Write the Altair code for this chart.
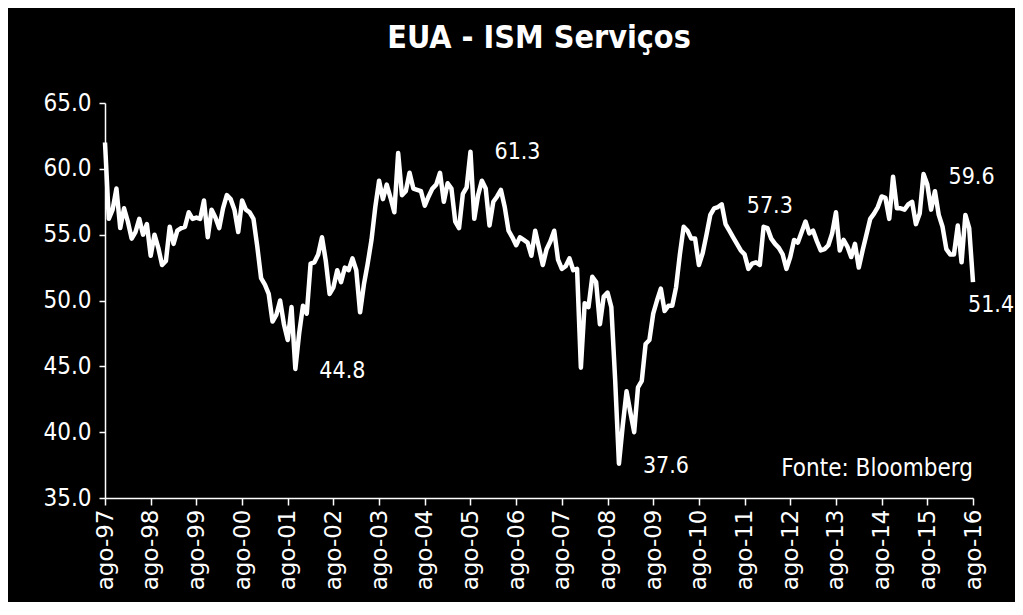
import altair as alt
import pandas as pd

# Monthly ISM Services index, ago-97 .. ago-16
values = [
    62.0, 56.2, 56.9, 58.5, 55.5, 57.0, 56.0, 54.7, 55.2, 56.2, 55.0, 55.8,   # ago97-jul98
    53.4, 55.0, 54.0, 52.7, 53.0, 55.6, 54.3, 55.3, 55.5, 55.6, 56.7, 56.2,   # ago98-jul99
    56.3, 56.2, 57.6, 54.8, 56.9, 56.3, 55.5, 57.0, 58.0, 57.7, 56.9, 55.2,   # ago99-jul00
    57.6, 56.9, 56.7, 56.2, 54.1, 51.7, 51.2, 50.5, 48.4, 48.9, 50.0, 48.2,   # ago00-jul01
    47.0, 49.5, 44.8, 47.5, 49.6, 49.0, 52.8, 52.9, 53.5, 54.8, 53.0, 50.5,   # ago01-jul02
    51.0, 52.3, 51.4, 52.5, 52.3, 53.2, 52.3, 49.1, 51.2, 52.8, 54.6, 57.1,   # ago02-jul03
    59.1, 57.7, 58.8, 57.8, 56.7, 61.2, 58.0, 58.3, 59.7, 58.5, 58.4, 58.3,   # ago03-jul04
    57.2, 57.9, 58.5, 58.8, 59.7, 57.5, 58.9, 58.5, 56.0, 55.5, 58.1, 58.6,   # ago04-jul05
    61.3, 56.2, 58.0, 59.1, 58.5, 55.7, 57.5, 57.9, 58.4, 57.1, 55.3, 54.8,   # ago05-jul06
    54.2, 54.8, 54.6, 54.4, 53.4, 55.3, 54.0, 52.7, 53.9, 54.5, 55.3, 53.1,   # ago06-jul07
    52.4, 52.6, 53.2, 52.3, 52.4, 44.9, 49.8, 49.5, 51.8, 51.4, 48.2, 50.3,   # ago07-jul08
    50.6, 49.5, 44.0, 37.6, 40.5, 43.1, 41.5, 40.0, 43.4, 43.9, 46.7, 47.0,   # ago08-jul09
    49.0, 50.0, 50.9, 49.2, 49.6, 49.6, 51.0, 53.5, 55.6, 55.3, 54.7, 54.7,   # ago09-jul10
    52.7, 53.6, 55.0, 56.5, 57.0, 57.1, 57.3, 55.8, 55.3, 54.8, 54.3, 53.8,   # ago10-jul11
    53.5, 52.4, 52.8, 52.9, 52.7, 55.6, 55.5, 54.7, 54.3, 54.0, 53.5, 52.4,   # ago11-jul12
    53.3, 54.6, 54.4, 55.2, 56.0, 55.1, 55.3, 54.5, 53.8, 53.9, 54.2, 55.1,   # ago12-jul13
    56.7, 53.8, 54.6, 54.1, 53.3, 54.3, 52.5, 53.8, 55.0, 56.2, 56.6, 57.1,   # ago13-jul14
    57.9, 57.8, 56.2, 59.4, 57.0, 57.0, 56.9, 57.3, 57.5, 55.8, 56.6, 59.6,   # ago14-jul15
    58.8, 56.9, 58.3, 56.5, 55.6, 53.9, 53.5, 53.5, 55.7, 52.9, 56.5, 55.5,   # ago15-jul16
    51.4,                                                                     # ago16
]
tick_labels = ["ago-97", "ago-98", "ago-99", "ago-00", "ago-01", "ago-02", "ago-03",
               "ago-04", "ago-05", "ago-06", "ago-07", "ago-08", "ago-09", "ago-10",
               "ago-11", "ago-12", "ago-13", "ago-14", "ago-15", "ago-16"]
y_ticks = [35, 40, 45, 50, 55, 60, 65]
highlight_idx = [50, 96, 135, 162, 215, 228]
title_text = "EUA - ISM Serviços"
source_text = "Fonte: Bloomberg"

df = pd.DataFrame({"i": list(range(len(values))), "v": values})
n_last = len(values) - 1

label_expr = "[" + ",".join("'%s'" % t for t in tick_labels) + "][round(datum.value/12)]"

COND = "DejaVu Sans Condensed, Liberation Sans Narrow, DejaVu Sans"

x_enc = alt.X(
    "i:Q",
    scale=alt.Scale(domain=[0, n_last], nice=False, zero=False),
    axis=alt.Axis(
        values=list(range(0, n_last + 1, 12)),
        labelExpr=label_expr,
        labelAngle=-90,
        labelFont="DejaVu Sans",
        labelFontSize=23,
        labelColor="white",
        labelPadding=4,
        tickColor="white",
        tickSize=7,
        domainColor="white",
        domainWidth=1.5,
        tickWidth=1.5,
        grid=False,
        labelOverlap=False,
        title=None,
    ),
)
y_enc = alt.Y(
    "v:Q",
    scale=alt.Scale(domain=[35, 65], nice=False, zero=False),
    axis=alt.Axis(
        values=y_ticks,
        format=".1f",
        labelFont=COND,
        labelFontSize=24,
        labelColor="white",
        labelPadding=8,
        tickColor="white",
        tickSize=6,
        tickWidth=1.5,
        domainColor="white",
        domainWidth=1.5,
        grid=False,
        title=None,
    ),
)

line = alt.Chart(df).mark_line(color="white", strokeWidth=4.5, strokeJoin="round").encode(x=x_enc, y=y_enc)

offsets = {50: (24, 2), 96: (24, 0), 135: (24, 2), 162: (25, 2), 215: (25, 3), 228: (-5, 23)}
layers = [line]
for idx in highlight_idx:
    dx, dy = offsets[idx]
    layers.append(
        alt.Chart(df[df.i == idx]).mark_text(
            align="left", baseline="middle", dx=dx, dy=dy,
            color="white", font=COND, fontSize=23,
        ).encode(x="i:Q", y="v:Q", text=alt.Text("v:Q", format=".1f"))
    )

layers.append(
    alt.Chart(df[df.i == n_last]).mark_text(
        align="right", baseline="middle", color="white", font=COND, fontSize=24,
    ).encode(x=alt.datum(n_last), y=alt.datum(37.2), text=alt.value(source_text))
)

chart = alt.layer(*layers).properties(
    width=868,
    height=395,
    autosize=alt.AutoSizeParams(type="none"),
    padding={"left": 97, "top": 95, "right": 42, "bottom": 104},
    background="black",
    title=alt.TitleParams(
        title_text, color="white", font=COND, fontSize=32, fontWeight="bold",
        anchor="middle", offset=36,
    ),
).configure_view(stroke=None)

chart.save("out.html", embed_options={"renderer": "svg", "actions": False})
